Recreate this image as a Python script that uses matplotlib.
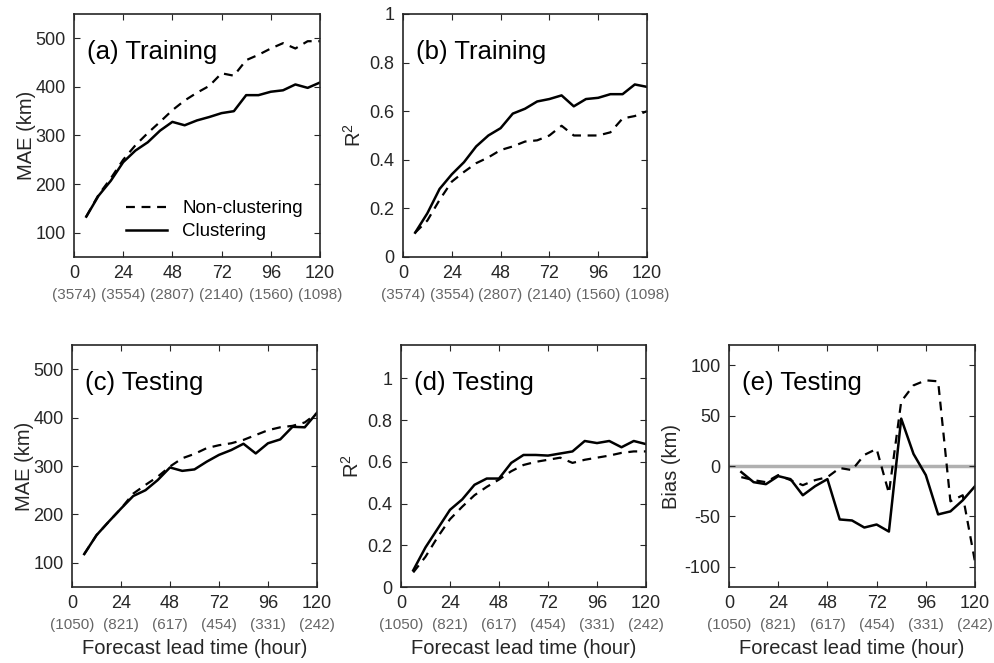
import matplotlib.pyplot as plt
import numpy as np

plt.rcParams['font.family'] = ['Liberation Sans', 'DejaVu Sans']
plt.rcParams['mathtext.fontset'] = 'custom'
plt.rcParams['mathtext.rm'] = 'Liberation Sans'

# forecast lead times (hours)
lead = np.arange(6, 121, 6)
xticks = [0, 24, 48, 72, 96, 120]
n_train = ['(3574)', '(3554)', '(2807)', '(2140)', '(1560)', '(1098)']
n_test = ['(1050)', '(821)', '(617)', '(454)', '(331)', '(242)']

# (a) training MAE (km)
mae_train_nc = [133, 178, 212, 250, 280, 305, 328, 352, 372, 388,
                402, 428, 423, 455, 466, 479, 490, 479, 494, 494]
mae_train_c = [133, 176, 207, 245, 269, 286, 310, 328, 321, 331,
               338, 346, 350, 383, 383, 390, 393, 405, 398, 409]

# (b) training R^2
r2_train_nc = [0.10, 0.15, 0.235, 0.31, 0.35, 0.386, 0.41, 0.44, 0.455, 0.475,
               0.48, 0.50, 0.54, 0.50, 0.50, 0.50, 0.513, 0.57, 0.58, 0.60]
r2_train_c = [0.10, 0.18, 0.28, 0.34, 0.39, 0.455, 0.50, 0.53, 0.59, 0.61,
              0.64, 0.65, 0.665, 0.62, 0.65, 0.655, 0.67, 0.67, 0.71, 0.70]

# (c) testing MAE (km)
mae_test_nc = [118, 157, 185, 212, 243, 261, 278, 299, 316, 325,
               337, 343, 347, 354, 364, 374, 380, 383, 390, 409]
mae_test_c = [118, 157, 185, 212, 238, 250, 271, 297, 290, 293,
              309, 323, 333, 346, 326, 347, 355, 381, 380, 410]

# (d) testing R^2
r2_test_nc = [0.07, 0.145, 0.24, 0.325, 0.385, 0.44, 0.48, 0.515, 0.555, 0.585,
              0.60, 0.61, 0.62, 0.595, 0.61, 0.62, 0.63, 0.643, 0.65, 0.65]
r2_test_c = [0.08, 0.19, 0.28, 0.37, 0.42, 0.49, 0.52, 0.52, 0.595, 0.633,
             0.633, 0.63, 0.64, 0.65, 0.70, 0.69, 0.70, 0.67, 0.70, 0.685]

# (e) testing bias (km)
bias_test_nc = [-11, -14, -16, -9, -14, -19, -14, -11, -2, -4,
                11, 17, -27, 64, 80, 85, 84, -35, -29, -95]
bias_test_c = [-6, -16, -18, -10, -13, -29, -20, -13, -53, -54,
               -61, -58, -65, 47, 12, -9, -48, -45, -34, -20]

fig = plt.figure(figsize=(9.94, 6.63), dpi=100)
frame = '#262626'


def make_axes(rect, ylim, yticks, ylabel, counts, title, ylab_x, show_xlabel):
    ax = fig.add_axes(rect)
    ax.set_xlim(0, 120)
    ax.set_ylim(*ylim)
    ax.set_xticks(xticks)
    ax.set_xticklabels([str(t) for t in xticks])
    ax.set_yticks(yticks)
    ax.set_yticklabels(['%g' % t for t in yticks])
    ax.tick_params(direction='in', top=True, right=True, length=4, width=0.8,
                   labelsize=13, colors=frame, pad=6)
    for s in ax.spines.values():
        s.set_color(frame)
        s.set_linewidth(1.2)
    # sample counts under each lead-time tick
    for t, c in zip(xticks, counts):
        ax.annotate(c, xy=(t, 0), xycoords=('data', 'axes fraction'),
                    xytext=(0, -27.5), textcoords='offset points',
                    ha='center', va='center', fontsize=11, color='#666666')
    ax.set_ylabel(ylabel, fontsize=14.5, color=frame)
    ax.yaxis.set_label_coords(ylab_x, 0.5)
    if show_xlabel:
        ax.set_xlabel('Forecast lead time (hour)', fontsize=14.5, color=frame)
        ax.xaxis.set_label_coords(0.5, -0.215)
    ax.text(0.053, 0.845, title, transform=ax.transAxes, fontsize=18.5,
            va='center', ha='left', color='black')
    return ax


ln = dict(color='black', lw=1.8)
dash = dict(color='black', lw=1.6, dashes=(4, 3))

ax_a = make_axes([0.0744, 0.6124, 0.2475, 0.3665], (50, 550),
                 [100, 200, 300, 400, 500], 'MAE (km)', n_train,
                 '(a) Training', -0.155, False)
ax_a.plot(lead, mae_train_nc, label='Non-clustering', **dash)
ax_a.plot(lead, mae_train_c, label='Clustering', **ln)
ax_a.legend(loc='lower right', frameon=False, fontsize=13.5, handlelength=2.2,
            labelspacing=0.3, borderaxespad=0.5)

ax_b = make_axes([0.4054, 0.6124, 0.2455, 0.3665], (0, 1),
                 [0, 0.2, 0.4, 0.6, 0.8, 1], 'R$^2$', n_train,
                 '(b) Training', -0.155, False)
ax_b.plot(lead, r2_train_nc, **dash)
ax_b.plot(lead, r2_train_c, **ln)

ax_c = make_axes([0.0724, 0.1146, 0.2465, 0.365], (50, 550),
                 [100, 200, 300, 400, 500], 'MAE (km)', n_test,
                 '(c) Testing', -0.155, True)
ax_c.plot(lead, mae_test_nc, **dash)
ax_c.plot(lead, mae_test_c, **ln)

ax_d = make_axes([0.4034, 0.1146, 0.2465, 0.365], (0, 1.16),
                 [0, 0.2, 0.4, 0.6, 0.8, 1], 'R$^2$', n_test,
                 '(d) Testing', -0.155, True)
ax_d.plot(lead, r2_test_nc, **dash)
ax_d.plot(lead, r2_test_c, **ln)

ax_e = make_axes([0.7334, 0.1146, 0.2475, 0.365], (-120, 120),
                 [-100, -50, 0, 50, 100], 'Bias (km)', n_test,
                 '(e) Testing', -0.195, True)
ax_e.axhline(0, color='#b0b0b0', lw=2.5, zorder=1)
ax_e.plot(lead, bias_test_nc, **dash)
ax_e.plot(lead, bias_test_c, **ln)

fig.savefig('out.png', dpi=100)
